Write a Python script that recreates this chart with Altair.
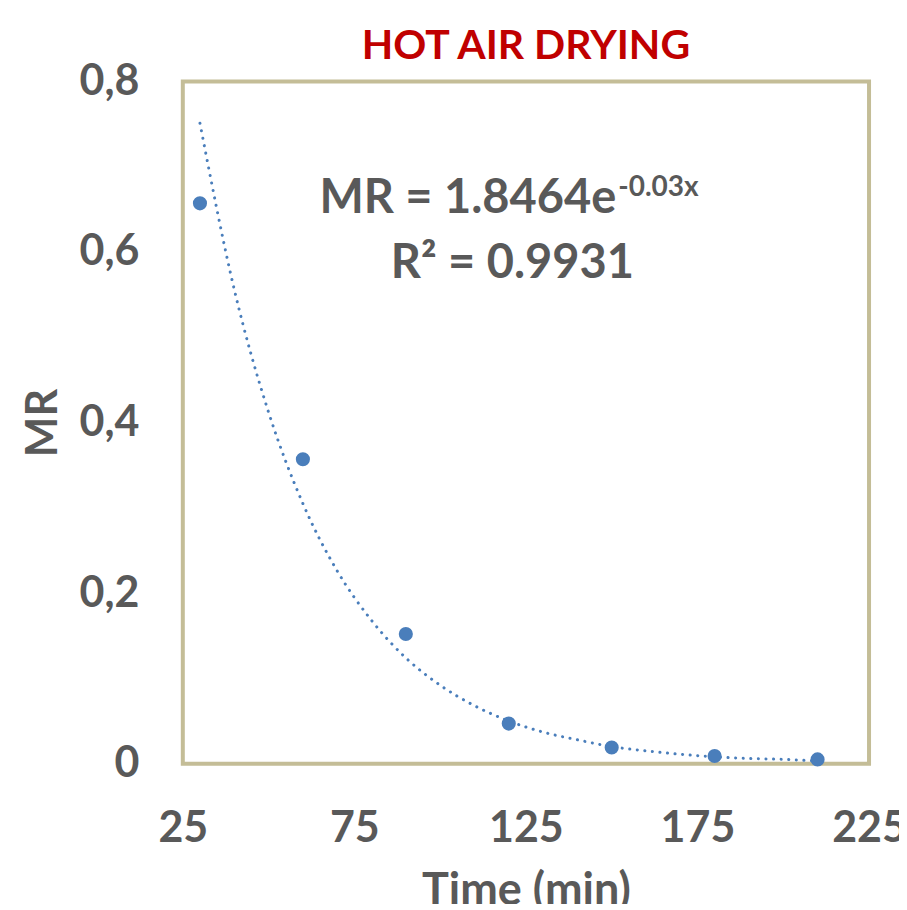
import altair as alt
import pandas as pd

# measured points
time_min = [30, 60, 90, 120, 150, 180, 210]
mr_values = [0.657, 0.357, 0.152, 0.047, 0.019, 0.009, 0.005]

# dotted trendline
trend_x = [30, 40, 50, 60, 70, 80, 90, 100, 110, 120, 130, 140, 150, 160, 170, 180, 190, 200, 210]
trend_y = [0.751, 0.556, 0.412, 0.305, 0.226, 0.168, 0.124, 0.092, 0.068, 0.050, 0.037,
           0.028, 0.020, 0.015, 0.011, 0.008, 0.006, 0.005, 0.003]

x_ticks = [25, 75, 125, 175, 225]
y_ticks = [0, 0.2, 0.4, 0.6, 0.8]

eq_main = ["MR = 1.8464e"]
eq_sup = ["-0.03x"]
eq_r2 = ["R² = 0.9931"]

FONT = "Lato"
GRAY = "#595959"
BLUE = "#4a7ebb"

pts = pd.DataFrame({"t": time_min, "mr": mr_values})
trend = pd.DataFrame({"t": trend_x, "mr": trend_y})

xs = alt.Scale(domain=[25, 225], nice=False, zero=False)
ys = alt.Scale(domain=[0, 0.8], nice=False)

x_axis = alt.Axis(values=x_ticks, title="Time (min)", grid=False, ticks=False, domain=False,
                  labelFont=FONT, labelFontSize=43, labelFontWeight="bold", labelColor=GRAY,
                  labelPadding=44, labelFlush=False, labelOverlap=False,
                  titleFont=FONT, titleFontSize=45, titleFontWeight="bold", titleColor=GRAY,
                  titlePadding=18)
y_axis = alt.Axis(values=y_ticks, title="MR", grid=False, ticks=False, domain=False,
                  labelExpr="datum.value == 0 ? '0' : replace(format(datum.value, '.1f'), '.', ',')",
                  labelFont=FONT, labelFontSize=43, labelFontWeight="bold", labelColor=GRAY,
                  labelPadding=44, labelFlush=False, labelOverlap=False,
                  titleFont=FONT, titleFontSize=43, titleFontWeight="bold", titleColor=GRAY,
                  titlePadding=14)

line = alt.Chart(trend).mark_line(color=BLUE, strokeWidth=3, strokeDash=[0.1, 7.5],
                                  strokeCap="round", interpolate="monotone").encode(
    x=alt.X("t:Q", scale=xs, axis=x_axis),
    y=alt.Y("mr:Q", scale=ys, axis=y_axis),
)

points = alt.Chart(pts).mark_circle(color=BLUE, size=200, opacity=1).encode(
    x=alt.X("t:Q", scale=xs),
    y=alt.Y("mr:Q", scale=ys),
)

t1 = alt.Chart(pd.DataFrame({"s": eq_main})).mark_text(
    font=FONT, fontSize=47, fontWeight="bold", color=GRAY, align="right", baseline="alphabetic"
).encode(text="s:N", x=alt.value(434), y=alt.value(132))

t2 = alt.Chart(pd.DataFrame({"s": eq_sup})).mark_text(
    font=FONT, fontSize=28, fontWeight="bold", color=GRAY, align="left", baseline="alphabetic"
).encode(text="s:N", x=alt.value(436), y=alt.value(115))

t3 = alt.Chart(pd.DataFrame({"s": eq_r2})).mark_text(
    font=FONT, fontSize=47, fontWeight="bold", color=GRAY, align="center", baseline="alphabetic"
).encode(text="s:N", x=alt.value(330), y=alt.value(197))

chart = alt.layer(line, points, t1, t2, t3).properties(
    width=687, height=683,
    title=alt.TitleParams("HOT AIR DRYING", font=FONT, fontSize=41, fontWeight="bold",
                          color="#c00000", anchor="middle", offset=-8),
    autosize=alt.AutoSizeParams(type="none"),
    padding={"left": 175, "top": 73, "right": 30, "bottom": 140},
).configure_view(stroke="#c4bd97", strokeWidth=4)

chart.save("out.html", embed_options={"renderer": "svg", "actions": False})
